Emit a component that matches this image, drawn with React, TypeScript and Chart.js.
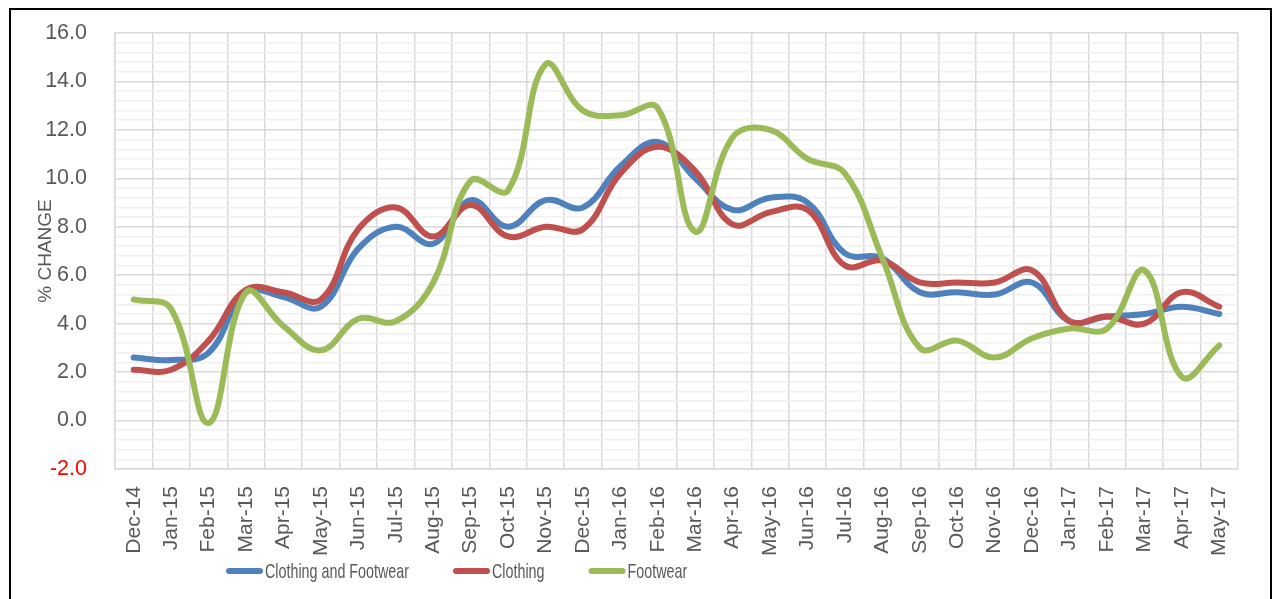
import React, { useEffect, useRef } from 'react';
import { Chart, registerables } from 'chart.js';

Chart.register(...registerables);

const months = [
  'Dec-14', 'Jan-15', 'Feb-15', 'Mar-15', 'Apr-15', 'May-15', 'Jun-15', 'Jul-15', 'Aug-15', 'Sep-15',
  'Oct-15', 'Nov-15', 'Dec-15', 'Jan-16', 'Feb-16', 'Mar-16', 'Apr-16', 'May-16', 'Jun-16', 'Jul-16',
  'Aug-16', 'Sep-16', 'Oct-16', 'Nov-16', 'Dec-16', 'Jan-17', 'Feb-17', 'Mar-17', 'Apr-17', 'May-17',
];

const clothingAndFootwear = [
  2.6, 2.5, 2.8, 5.3, 5.1, 4.7, 7.1, 8.0, 7.3, 9.1,
  8.0, 9.1, 8.8, 10.5, 11.5, 10.0, 8.7, 9.2, 9.0, 6.9,
  6.7, 5.3, 5.3, 5.2, 5.7, 4.1, 4.3, 4.4, 4.7, 4.4,
];

const clothing = [
  2.1, 2.1, 3.3, 5.4, 5.3, 5.0, 7.9, 8.8, 7.6, 8.9,
  7.6, 8.0, 7.9, 10.2, 11.3, 10.3, 8.1, 8.6, 8.7, 6.4,
  6.6, 5.7, 5.7, 5.7, 6.2, 4.1, 4.3, 4.0, 5.3, 4.7,
];

const footwear = [
  5.0, 4.6, -0.1, 5.3, 3.9, 2.9, 4.2, 4.1, 5.7, 9.9,
  9.5, 14.7, 12.8, 12.6, 12.9, 7.8, 11.7, 12.0, 10.8, 10.2,
  6.7, 3.0, 3.3, 2.6, 3.4, 3.8, 3.8, 6.2, 1.8, 3.1,
];

const seriesNames = ['Clothing and Footwear', 'Clothing', 'Footwear'];
const seriesColors = ['#4F81BD', '#C0504D', '#9BBB59'];

const yMin = -2;
const yMax = 16;
const yMinorStep = 0.4;
const yMajorStep = 2;

const FONT = '"Liberation Sans", Arial, sans-serif';
const TEXT = '#595959';

const isMajor = (v: number) => Math.abs(v / yMajorStep - Math.round(v / yMajorStep)) < 1e-6;

const framePlugin = {
  id: 'frame',
  afterDraw(chart: any) {
    const ctx = chart.ctx;
    ctx.save();
    ctx.fillStyle = '#000000';
    ctx.fillRect(9, 8, 2, 620);
    ctx.fillRect(9, 8, 1263, 2);
    ctx.fillRect(1270, 8, 2, 620);
    ctx.restore();
  },
};

const legendPlugin = {
  id: 'customLegend',
  afterDraw(chart: any) {
    const ctx = chart.ctx;
    const ds = chart.data.datasets;
    ctx.save();
    ctx.font = '21px "Liberation Sans Narrow", "Liberation Sans", Arial, sans-serif';
    const w0 = ctx.measureText(ds[0].label).width;
    const sx = Math.min(1, 144 / w0);
    const y = 571;
    let x = 226;
    ds.forEach((d: any) => {
      ctx.strokeStyle = d.borderColor;
      ctx.lineWidth = 6;
      ctx.lineCap = 'round';
      ctx.beginPath();
      ctx.moveTo(x + 3, y);
      ctx.lineTo(x + 34, y);
      ctx.stroke();
      const tw = ctx.measureText(d.label).width * sx;
      ctx.save();
      ctx.translate(x + 39, y);
      ctx.scale(sx, 1);
      ctx.fillStyle = TEXT;
      ctx.textBaseline = 'middle';
      ctx.textAlign = 'left';
      ctx.fillText(d.label, 0, 1);
      ctx.restore();
      x = x + 39 + tw + 44;
    });
    ctx.restore();
  },
};

export default function App() {
  const ref = useRef<HTMLCanvasElement>(null);

  useEffect(() => {
    if (!ref.current) return;
    const series = [clothingAndFootwear, clothing, footwear];
    const chart = new Chart(ref.current, {
      type: 'line',
      data: {
        labels: months,
        datasets: series.map((values, i) => ({
          label: seriesNames[i],
          data: values,
          borderColor: seriesColors[i],
          backgroundColor: seriesColors[i],
          borderWidth: 6,
          pointRadius: 0,
          pointHoverRadius: 0,
          tension: 0.4,
          borderCapStyle: 'round',
          borderJoinStyle: 'round',
          fill: false,
          order: 3 - i,
        })),
      },
      options: {
        responsive: false,
        animation: false,
        layout: { padding: { left: 0, top: 33, right: 37, bottom: 0 } },
        plugins: {
          legend: { display: false },
          tooltip: { enabled: false },
        },
        scales: {
          x: {
            offset: true,
            afterFit: (s: any) => {
              s.height = 130;
            },
            grid: { offset: true, color: '#d9d9d9', lineWidth: 1.5, drawTicks: false },
            border: { color: '#d9d9d9', width: 1.5 },
            ticks: {
              autoSkip: false,
              minRotation: 90,
              maxRotation: 90,
              padding: 17,
              font: { family: FONT, size: 21 },
              color: TEXT,
            },
          },
          y: {
            min: yMin,
            max: yMax,
            afterFit: (s: any) => {
              s.width = 115;
            },
            ticks: {
              stepSize: yMinorStep,
              autoSkip: false,
              padding: 4,
              font: { family: FONT, size: 21.5 },
              color: (c: any) => (c.tick && Math.abs(c.tick.value - yMin) < 1e-6 ? '#FF0000' : TEXT),
              callback: (v: any) => (isMajor(Number(v)) ? Number(v).toFixed(1) : ''),
            },
            grid: {
              color: (c: any) => (c.tick && isMajor(c.tick.value) ? '#d9d9d9' : '#f0f0f0'),
              lineWidth: 1.5,
              drawTicks: true,
              tickLength: 24,
              tickColor: 'rgba(0,0,0,0)',
            },
            border: { color: '#d9d9d9', width: 1.5 },
            title: {
              display: true,
              text: '% CHANGE',
              font: { family: FONT, size: 19 },
              color: TEXT,
              padding: { top: 34, bottom: 0 },
            },
          },
        },
      },
      plugins: [framePlugin, legendPlugin],
    } as any);
    return () => chart.destroy();
  }, []);

  return (
    <div style={{ position: 'absolute', left: 0, top: 0, width: 1275, height: 599, background: '#ffffff' }}>
      <canvas ref={ref} width={1275} height={599} style={{ display: 'block' }} />
    </div>
  );
}
